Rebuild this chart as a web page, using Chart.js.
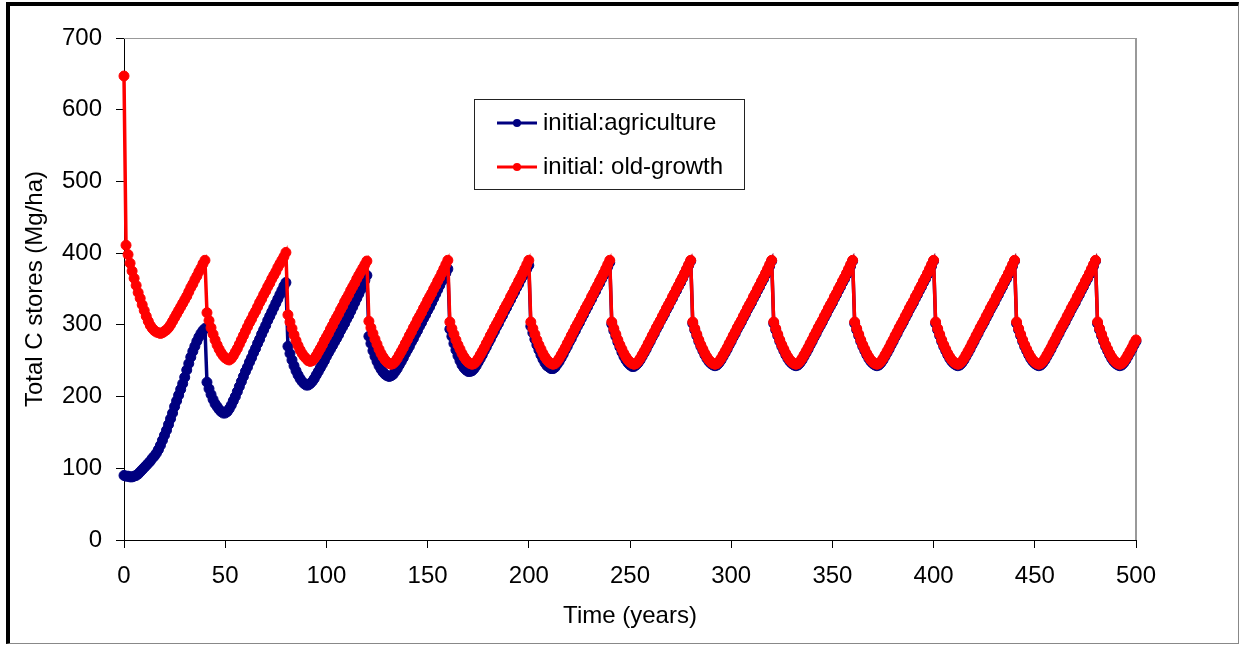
<!DOCTYPE html>
<html>
<head>
<meta charset="utf-8">
<title>Total C stores</title>
<script src="https://cdn.jsdelivr.net/npm/chart.js@4/dist/chart.umd.min.js"></script>
<style>
  html, body { margin: 0; padding: 0; background: #fff; }
  #frame {
    position: absolute; left: 6px; top: 2px; width: 1233px; height: 642px;
    box-sizing: border-box;
    border-left: 4px solid #000; border-top: 4px solid #000;
    border-right: 1px solid #888; border-bottom: 1px solid #888;
  }
  #chart { display: block; }
</style>
</head>
<body>
<div id="frame"><canvas id="chart" width="1228" height="637"></canvas></div>
<script>
// Total C stores (Mg/ha), one value per year from year 0, harvest every 40 years
var agriculture = [
  90, 89, 89, 88, 88, 89, 90, 92, 95, 98, 101, 104, 107, 110, 114, 117, 121, 126, 132, 139, 146, 153, 161, 169, 177, 186, 194, 202, 210, 218, 227, 237, 246, 255, 263, 270, 277, 283, 288, 292, 295,
  220, 211, 203, 196, 190, 186, 182, 179, 177, 177, 179, 183, 188, 194, 200, 207, 214, 221, 228, 235, 241, 248, 254, 261, 267, 274, 280, 287, 293, 299, 306, 312, 318, 324, 330, 336, 342, 348, 354, 359,
  270, 260, 251, 243, 236, 230, 225, 221, 218, 216, 216, 218, 221, 225, 230, 235, 240, 245, 250, 256, 261, 266, 271, 276, 281, 286, 292, 297, 302, 308, 313, 319, 325, 331, 337, 343, 349, 356, 362, 369,
  284, 274, 264, 256, 249, 243, 238, 234, 231, 229, 228, 229, 231, 235, 239, 244, 249, 254, 260, 265, 270, 276, 281, 287, 292, 298, 303, 309, 314, 320, 325, 331, 337, 343, 349, 355, 361, 367, 372, 378,
  294, 284, 274, 265, 257, 250, 244, 240, 237, 235, 235, 236, 239, 243, 248, 253, 258, 264, 269, 275, 280, 286, 291, 297, 302, 308, 313, 319, 324, 330, 335, 341, 346, 352, 357, 363, 368, 373, 378, 383,
  298, 289, 280, 272, 265, 258, 252, 247, 243, 241, 239, 239, 241, 245, 249, 254, 259, 265, 270, 276, 281, 287, 292, 298, 303, 309, 314, 320, 325, 331, 336, 342, 347, 353, 358, 364, 369, 375, 381, 387,
  301, 292, 284, 276, 269, 262, 256, 251, 247, 244, 242, 242, 244, 247, 251, 256, 261, 266, 272, 277, 283, 288, 294, 299, 305, 310, 315, 321, 326, 332, 337, 343, 348, 354, 359, 365, 371, 377, 383, 389,
  302, 293, 285, 277, 270, 264, 258, 253, 249, 246, 244, 243, 244, 247, 251, 256, 261, 266, 272, 277, 283, 288, 294, 299, 304, 310, 315, 321, 326, 331, 337, 342, 348, 353, 359, 364, 370, 376, 382, 389,
  302, 293, 285, 277, 270, 264, 258, 253, 249, 246, 244, 243, 244, 247, 251, 256, 261, 266, 272, 277, 283, 288, 294, 299, 304, 310, 315, 321, 326, 331, 337, 342, 348, 353, 359, 364, 370, 376, 382, 389,
  302, 293, 285, 277, 270, 264, 258, 253, 249, 246, 244, 243, 244, 247, 251, 256, 261, 266, 272, 277, 283, 288, 294, 299, 304, 310, 315, 321, 326, 331, 337, 342, 348, 353, 359, 364, 370, 376, 382, 389,
  302, 293, 285, 277, 270, 264, 258, 253, 249, 246, 244, 243, 244, 247, 251, 256, 261, 266, 272, 277, 283, 288, 294, 299, 304, 310, 315, 321, 326, 331, 337, 342, 348, 353, 359, 364, 370, 376, 382, 389,
  302, 293, 285, 277, 270, 264, 258, 253, 249, 246, 244, 243, 244, 247, 251, 256, 261, 266, 272, 277, 283, 288, 294, 299, 304, 310, 315, 321, 326, 331, 337, 342, 348, 353, 359, 364, 370, 376, 382, 389,
  302, 293, 285, 277, 270, 264, 258, 253, 249, 246, 244, 243, 244, 247, 251, 256, 261, 266, 272, 277, 283, 288, 294
];

var oldGrowth = [
  647, 411, 398, 386, 375, 365, 355, 345, 337, 328, 320, 312, 305, 299, 295, 292, 290, 289, 288, 289, 291, 293, 296, 300, 305, 310, 315, 320, 325, 330, 335, 340, 346, 352, 357, 363, 368, 374, 379, 385, 390,
  317, 306, 296, 287, 279, 272, 266, 261, 257, 254, 252, 251, 253, 257, 262, 267, 273, 279, 285, 291, 297, 303, 308, 314, 319, 325, 331, 336, 342, 347, 353, 358, 364, 369, 374, 380, 385, 390, 395, 401,
  314, 304, 295, 286, 278, 271, 265, 260, 256, 253, 250, 249, 250, 253, 257, 262, 267, 272, 278, 283, 288, 294, 299, 305, 310, 315, 321, 326, 332, 337, 342, 348, 353, 358, 364, 369, 374, 379, 384, 389,
  305, 296, 288, 280, 273, 266, 260, 255, 251, 248, 246, 245, 246, 249, 253, 258, 263, 268, 274, 279, 285, 290, 296, 301, 307, 312, 317, 323, 328, 334, 339, 344, 350, 355, 361, 366, 372, 378, 384, 390,
  304, 295, 287, 279, 272, 266, 260, 255, 251, 248, 246, 245, 246, 249, 253, 258, 263, 268, 274, 279, 285, 290, 296, 301, 306, 312, 317, 323, 328, 333, 339, 344, 350, 355, 361, 366, 372, 378, 384, 390,
  304, 295, 287, 279, 272, 266, 260, 255, 251, 248, 246, 245, 246, 249, 253, 258, 263, 268, 274, 279, 285, 290, 296, 301, 306, 312, 317, 323, 328, 333, 339, 344, 350, 355, 361, 366, 372, 378, 384, 390,
  304, 295, 287, 279, 272, 266, 260, 255, 251, 248, 246, 245, 246, 249, 253, 258, 263, 268, 274, 279, 285, 290, 296, 301, 306, 312, 317, 323, 328, 333, 339, 344, 350, 355, 361, 366, 372, 378, 384, 390,
  304, 295, 287, 279, 272, 266, 260, 255, 251, 248, 246, 245, 246, 249, 253, 258, 263, 268, 274, 279, 285, 290, 296, 301, 306, 312, 317, 323, 328, 333, 339, 344, 350, 355, 361, 366, 372, 378, 384, 390,
  304, 295, 287, 279, 272, 266, 260, 255, 251, 248, 246, 245, 246, 249, 253, 258, 263, 268, 274, 279, 285, 290, 296, 301, 306, 312, 317, 323, 328, 333, 339, 344, 350, 355, 361, 366, 372, 378, 384, 390,
  304, 295, 287, 279, 272, 266, 260, 255, 251, 248, 246, 245, 246, 249, 253, 258, 263, 268, 274, 279, 285, 290, 296, 301, 306, 312, 317, 323, 328, 333, 339, 344, 350, 355, 361, 366, 372, 378, 384, 390,
  304, 295, 287, 279, 272, 266, 260, 255, 251, 248, 246, 245, 246, 249, 253, 258, 263, 268, 274, 279, 285, 290, 296, 301, 306, 312, 317, 323, 328, 333, 339, 344, 350, 355, 361, 366, 372, 378, 384, 390,
  304, 295, 287, 279, 272, 266, 260, 255, 251, 248, 246, 245, 246, 249, 253, 258, 263, 268, 274, 279, 285, 290, 296, 301, 306, 312, 317, 323, 328, 333, 339, 344, 350, 355, 361, 366, 372, 378, 384, 390,
  304, 295, 287, 279, 272, 266, 260, 255, 251, 248, 246, 245, 246, 249, 253, 258, 263, 268, 274, 279, 285, 290, 296
];

var seriesNames = ['initial:agriculture', 'initial: old-growth'];
var seriesColors = ['#000080', '#ff0000'];

var xRange = [0, 500];
var xStep = 50;
var yRange = [0, 700];
var yStep = 100;

var FONT = '"Liberation Sans", Arial, sans-serif';

function toPoints(values) {
  var pts = [];
  for (var i = 0; i < values.length; i++) {
    pts.push({ x: i, y: values[i] });
  }
  return pts;
}

function series(i, values, order) {
  return {
    label: seriesNames[i],
    data: toPoints(values),
    borderColor: seriesColors[i],
    backgroundColor: seriesColors[i],
    pointBackgroundColor: seriesColors[i],
    pointBorderColor: seriesColors[i],
    borderWidth: 3.5,
    pointRadius: 5,
    pointBorderWidth: 1,
    tension: 0,
    order: order,
    clip: { left: 10, top: 10, right: 7, bottom: 10 }
  };
}

// grey frame on top and right of the plot area
var plotBorder = {
  id: 'plotBorder',
  beforeDatasetsDraw: function(chart) {
    var ctx = chart.ctx, a = chart.chartArea;
    ctx.save();
    ctx.strokeStyle = '#999';
    ctx.lineWidth = 1;
    ctx.beginPath();
    ctx.moveTo(a.left, a.top + 0.5);
    ctx.lineTo(a.right, a.top + 0.5);
    ctx.stroke();
    ctx.lineWidth = 2;
    ctx.beginPath();
    ctx.moveTo(a.right, a.top);
    ctx.lineTo(a.right, a.bottom);
    ctx.stroke();
    ctx.restore();
  }
};

// boxed legend sitting inside the plot
var legendBox = {
  id: 'legendBox',
  afterDatasetsDraw: function(chart) {
    var ctx = chart.ctx, a = chart.chartArea;
    var x = a.left + 350, y = a.top + 61, w = 270, h = 90;
    ctx.save();
    ctx.fillStyle = '#fff';
    ctx.fillRect(x, y, w, h);
    ctx.strokeStyle = '#222';
    ctx.lineWidth = 1;
    ctx.strokeRect(x + 0.5, y + 0.5, w, h);
    ctx.font = '24px ' + FONT;
    ctx.textBaseline = 'middle';
    for (var i = 0; i < seriesNames.length; i++) {
      var cy = y + 24 + i * 44;
      ctx.strokeStyle = seriesColors[i];
      ctx.lineWidth = 3;
      ctx.beginPath();
      ctx.moveTo(x + 23, cy);
      ctx.lineTo(x + 63, cy);
      ctx.stroke();
      ctx.fillStyle = seriesColors[i];
      ctx.beginPath();
      ctx.arc(x + 43, cy, 4, 0, Math.PI * 2);
      ctx.fill();
      ctx.fillStyle = '#000';
      ctx.fillText(seriesNames[i], x + 69, cy);
    }
    ctx.restore();
  }
};

Chart.defaults.font.family = FONT;
Chart.defaults.color = '#000';

var tickFont = { family: FONT, size: 24 };

new Chart(document.getElementById('chart'), {
  type: 'line',
  data: {
    datasets: [series(0, agriculture, 1), series(1, oldGrowth, 0)]
  },
  options: {
    responsive: false,
    devicePixelRatio: 1,
    animation: false,
    events: [],
    layout: { padding: { left: 0, top: 32, right: 102, bottom: 0 } },
    plugins: {
      legend: { display: false },
      tooltip: { enabled: false }
    },
    scales: {
      x: {
        type: 'linear',
        min: xRange[0],
        max: xRange[1],
        ticks: { stepSize: xStep, padding: 14, font: tickFont, maxRotation: 0, autoSkip: false, color: '#000' },
        grid: { drawOnChartArea: false, drawTicks: true, tickLength: 8, color: '#000' },
        border: { display: true, color: '#000', width: 1 },
        title: { display: true, text: 'Time (years)', font: tickFont, color: '#000', padding: { top: 0, bottom: 12 } },
        afterFit: function(scale) { scale.height = 103; }
      },
      y: {
        type: 'linear',
        min: yRange[0],
        max: yRange[1],
        ticks: { stepSize: yStep, padding: 14, font: tickFont, color: '#000' },
        grid: { drawOnChartArea: false, drawTicks: true, tickLength: 8, color: '#000' },
        border: { display: true, color: '#000', width: 1 },
        title: { display: true, text: 'Total C stores (Mg/ha)', font: tickFont, color: '#000', padding: { top: 11, bottom: 0 } },
        afterFit: function(scale) { scale.width = 114; }
      }
    }
  },
  plugins: [plotBorder, legendBox]
});
</script>
</body>
</html>
